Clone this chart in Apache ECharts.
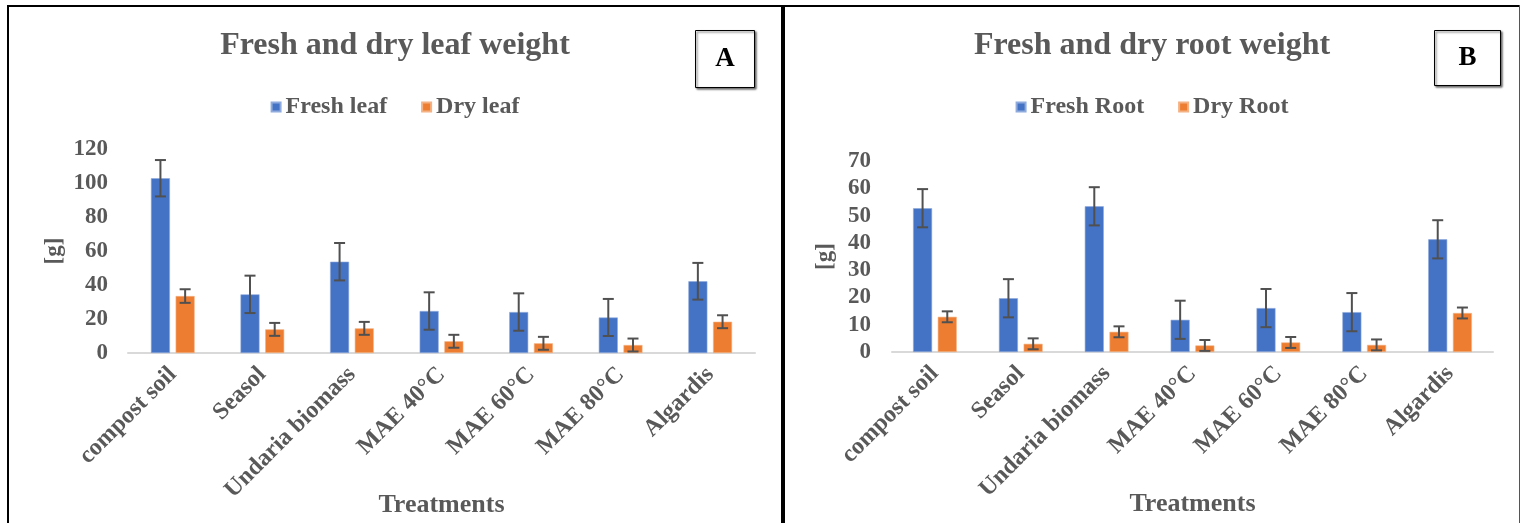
<!DOCTYPE html>
<html>
<head>
<meta charset="utf-8">
<script src="https://cdn.jsdelivr.net/npm/echarts@6/dist/echarts.min.js"></script>
<style>
  html, body { margin: 0; padding: 0; background: #fff; width: 1520px; height: 523px; overflow: hidden; position: relative; }
  .chart { position: absolute; top: 0; height: 523px; }
  .rule { position: absolute; background: #000; z-index: 2; }
</style>
</head>
<body>
<div id="chartA" class="chart" style="left:9px;width:772px"></div>
<div id="chartB" class="chart" style="left:785px;width:734px"></div>
<div class="rule" style="left:7px;top:5px;width:1513px;height:2px"></div>
<div class="rule" style="left:7px;top:5px;width:2px;height:518px"></div>
<div class="rule" style="left:781px;top:5px;width:4px;height:518px"></div>
<div class="rule" style="left:1519px;top:5px;width:1px;height:518px;background:#555"></div>
<script>
// Treatments on the category axis (shared by both panels)
const treatments = ['compost soil', 'Seasol', 'Undaria biomass', 'MAE 40°C', 'MAE 60°C', 'MAE 80°C', 'Algardis'];

// Panel A: leaf weight [g] with standard deviations
const freshLeaf    = [102.8, 34.5, 53.7, 24.7, 24.1, 20.9, 42.2];
const freshLeafErr = [10.7, 11.0, 11.0, 11.0, 11.0, 10.9, 10.8];
const dryLeaf      = [33.5, 13.9, 14.5, 6.9, 5.7, 4.7, 18.4];
const dryLeafErr   = [4.0, 3.8, 3.8, 3.8, 3.8, 3.8, 3.8];

// Panel B: root weight [g] with standard deviations
const freshRoot    = [52.7, 19.7, 53.4, 11.8, 16.1, 14.6, 41.3];
const freshRootErr = [7.0, 7.0, 7.0, 7.0, 7.0, 7.0, 7.0];
const dryRoot      = [12.9, 3.0, 7.4, 2.4, 3.5, 2.6, 14.3];
const dryRootErr   = [2.0, 2.0, 2.0, 2.0, 2.0, 2.0, 2.0];

// Y-axis ranges
const leafAxis = { max: 120, interval: 20 };
const rootAxis = { max: 70, interval: 10 };

const FONT = '"Liberation Serif", "Times New Roman", serif';
const GREY = '#595959';
const BLUE = '#4472C4';
const ORANGE = '#ED7D31';
const BAR_W = 19;
const BAR_GAP = 0.3;
const BAR_OFFSET = BAR_W * (1 + BAR_GAP) / 2;

function errorSeries(name, values, errs, side) {
  return {
    type: 'custom',
    name: name,
    silent: true,
    z: 5,
    data: values.map((v, i) => [i, v, errs[i]]),
    encode: { x: 0, y: 1 },
    renderItem(params, api) {
      const i = api.value(0), v = api.value(1), e = api.value(2);
      const hi = api.coord([i, v + e]);
      const lo = api.coord([i, v - e]);
      const x = hi[0] + side * BAR_OFFSET;
      const cap = 5.5;
      const st = { stroke: '#505050', lineWidth: 2 };
      return {
        type: 'group',
        children: [
          { type: 'line', shape: { x1: x, y1: hi[1], x2: x, y2: lo[1] }, style: st },
          { type: 'line', shape: { x1: x - cap, y1: hi[1], x2: x + cap, y2: hi[1] }, style: st },
          { type: 'line', shape: { x1: x - cap, y1: lo[1], x2: x + cap, y2: lo[1] }, style: st }
        ]
      };
    }
  };
}

function buildOption(cfg) {
  return {
    animation: false,
    textStyle: { fontFamily: FONT },
    title: {
      text: cfg.title,
      left: 'center',
      top: 25,
      textStyle: { fontFamily: FONT, fontSize: 32, fontWeight: 'bold', color: GREY }
    },
    legend: {
      data: [cfg.freshName, cfg.dryName],
      left: 'center',
      top: 90,
      icon: 'rect',
      itemWidth: 9,
      itemHeight: 9,
      itemGap: 34,
      textStyle: { fontFamily: FONT, fontSize: 24, fontWeight: 'bold', color: GREY }
    },
    grid: Object.assign({ outerBoundsMode: 'none', containLabel: false }, cfg.grid),
    xAxis: {
      type: 'category',
      data: treatments,
      name: 'Treatments',
      nameLocation: 'middle',
      nameGap: 139,
      nameMoveOverlap: false,
      nameTextStyle: { fontFamily: FONT, fontSize: 26, fontWeight: 'bold', color: GREY },
      axisLine: { lineStyle: { color: '#d9d9d9', width: 2 } },
      axisTick: { show: false },
      axisLabel: { interval: 0, rotate: 45, margin: 18, fontFamily: FONT, fontSize: 24, fontWeight: 'bold', color: GREY }
    },
    yAxis: {
      type: 'value',
      min: 0,
      max: cfg.axis.max,
      interval: cfg.axis.interval,
      name: '[g]',
      nameLocation: 'middle',
      nameGap: cfg.nameGap,
      nameMoveOverlap: false,
      nameTextStyle: { fontFamily: FONT, fontSize: 23, fontWeight: 'bold', color: GREY },
      axisLine: { show: false },
      axisTick: { show: false },
      splitLine: { show: false },
      axisLabel: { margin: cfg.labelMargin, fontFamily: FONT, fontSize: 23, fontWeight: 'bold', color: GREY }
    },
    graphic: [{
      type: 'group',
      left: cfg.box.x,
      top: cfg.box.y,
      children: [
        { type: 'rect', shape: { x: 0, y: 0, width: cfg.box.w, height: cfg.box.h },
          style: { fill: '#fff', stroke: '#000', lineWidth: 1, shadowBlur: 2, shadowOffsetX: 1.5, shadowOffsetY: 1.5, shadowColor: 'rgba(0,0,0,0.6)' } },
        { type: 'text', x: cfg.box.w / 2, y: cfg.box.h / 2,
          style: { text: cfg.letter, font: 'bold 27px ' + FONT, fill: '#000', align: 'center', verticalAlign: 'middle' } }
      ]
    }],
    series: [
      { type: 'bar', name: cfg.freshName, data: cfg.fresh, barWidth: BAR_W, barGap: (BAR_GAP * 100) + '%',
        itemStyle: { color: BLUE, borderColor: '#8faadc', borderWidth: 0.6 } },
      { type: 'bar', name: cfg.dryName, data: cfg.dry, barWidth: BAR_W,
        itemStyle: { color: ORANGE, borderColor: '#f4b183', borderWidth: 0.6 } },
      errorSeries(cfg.freshName + ' SD', cfg.fresh, cfg.freshErr, -1),
      errorSeries(cfg.dryName + ' SD', cfg.dry, cfg.dryErr, 1)
    ]
  };
}

const chartA = echarts.init(document.getElementById('chartA'));
chartA.setOption(buildOption({
  title: 'Fresh and dry leaf weight',
  freshName: 'Fresh leaf', dryName: 'Dry leaf',
  fresh: freshLeaf, freshErr: freshLeafErr, dry: dryLeaf, dryErr: dryLeafErr,
  axis: leafAxis,
  grid: { left: 119, right: 26, top: 149, bottom: 170 },
  nameGap: 62, labelMargin: 20,
  letter: 'A',
  box: { x: 686, y: 30, w: 59, h: 57 }
}));

const chartB = echarts.init(document.getElementById('chartB'));
chartB.setOption(buildOption({
  title: 'Fresh and dry root weight',
  freshName: 'Fresh Root', dryName: 'Dry Root',
  fresh: freshRoot, freshErr: freshRootErr, dry: dryRoot, dryErr: dryRootErr,
  axis: rootAxis,
  grid: { left: 107, right: 26, top: 161, bottom: 171 },
  nameGap: 55, labelMargin: 21,
  letter: 'B',
  box: { x: 649, y: 30, w: 66, h: 55 }
}));
</script>
</body>
</html>
